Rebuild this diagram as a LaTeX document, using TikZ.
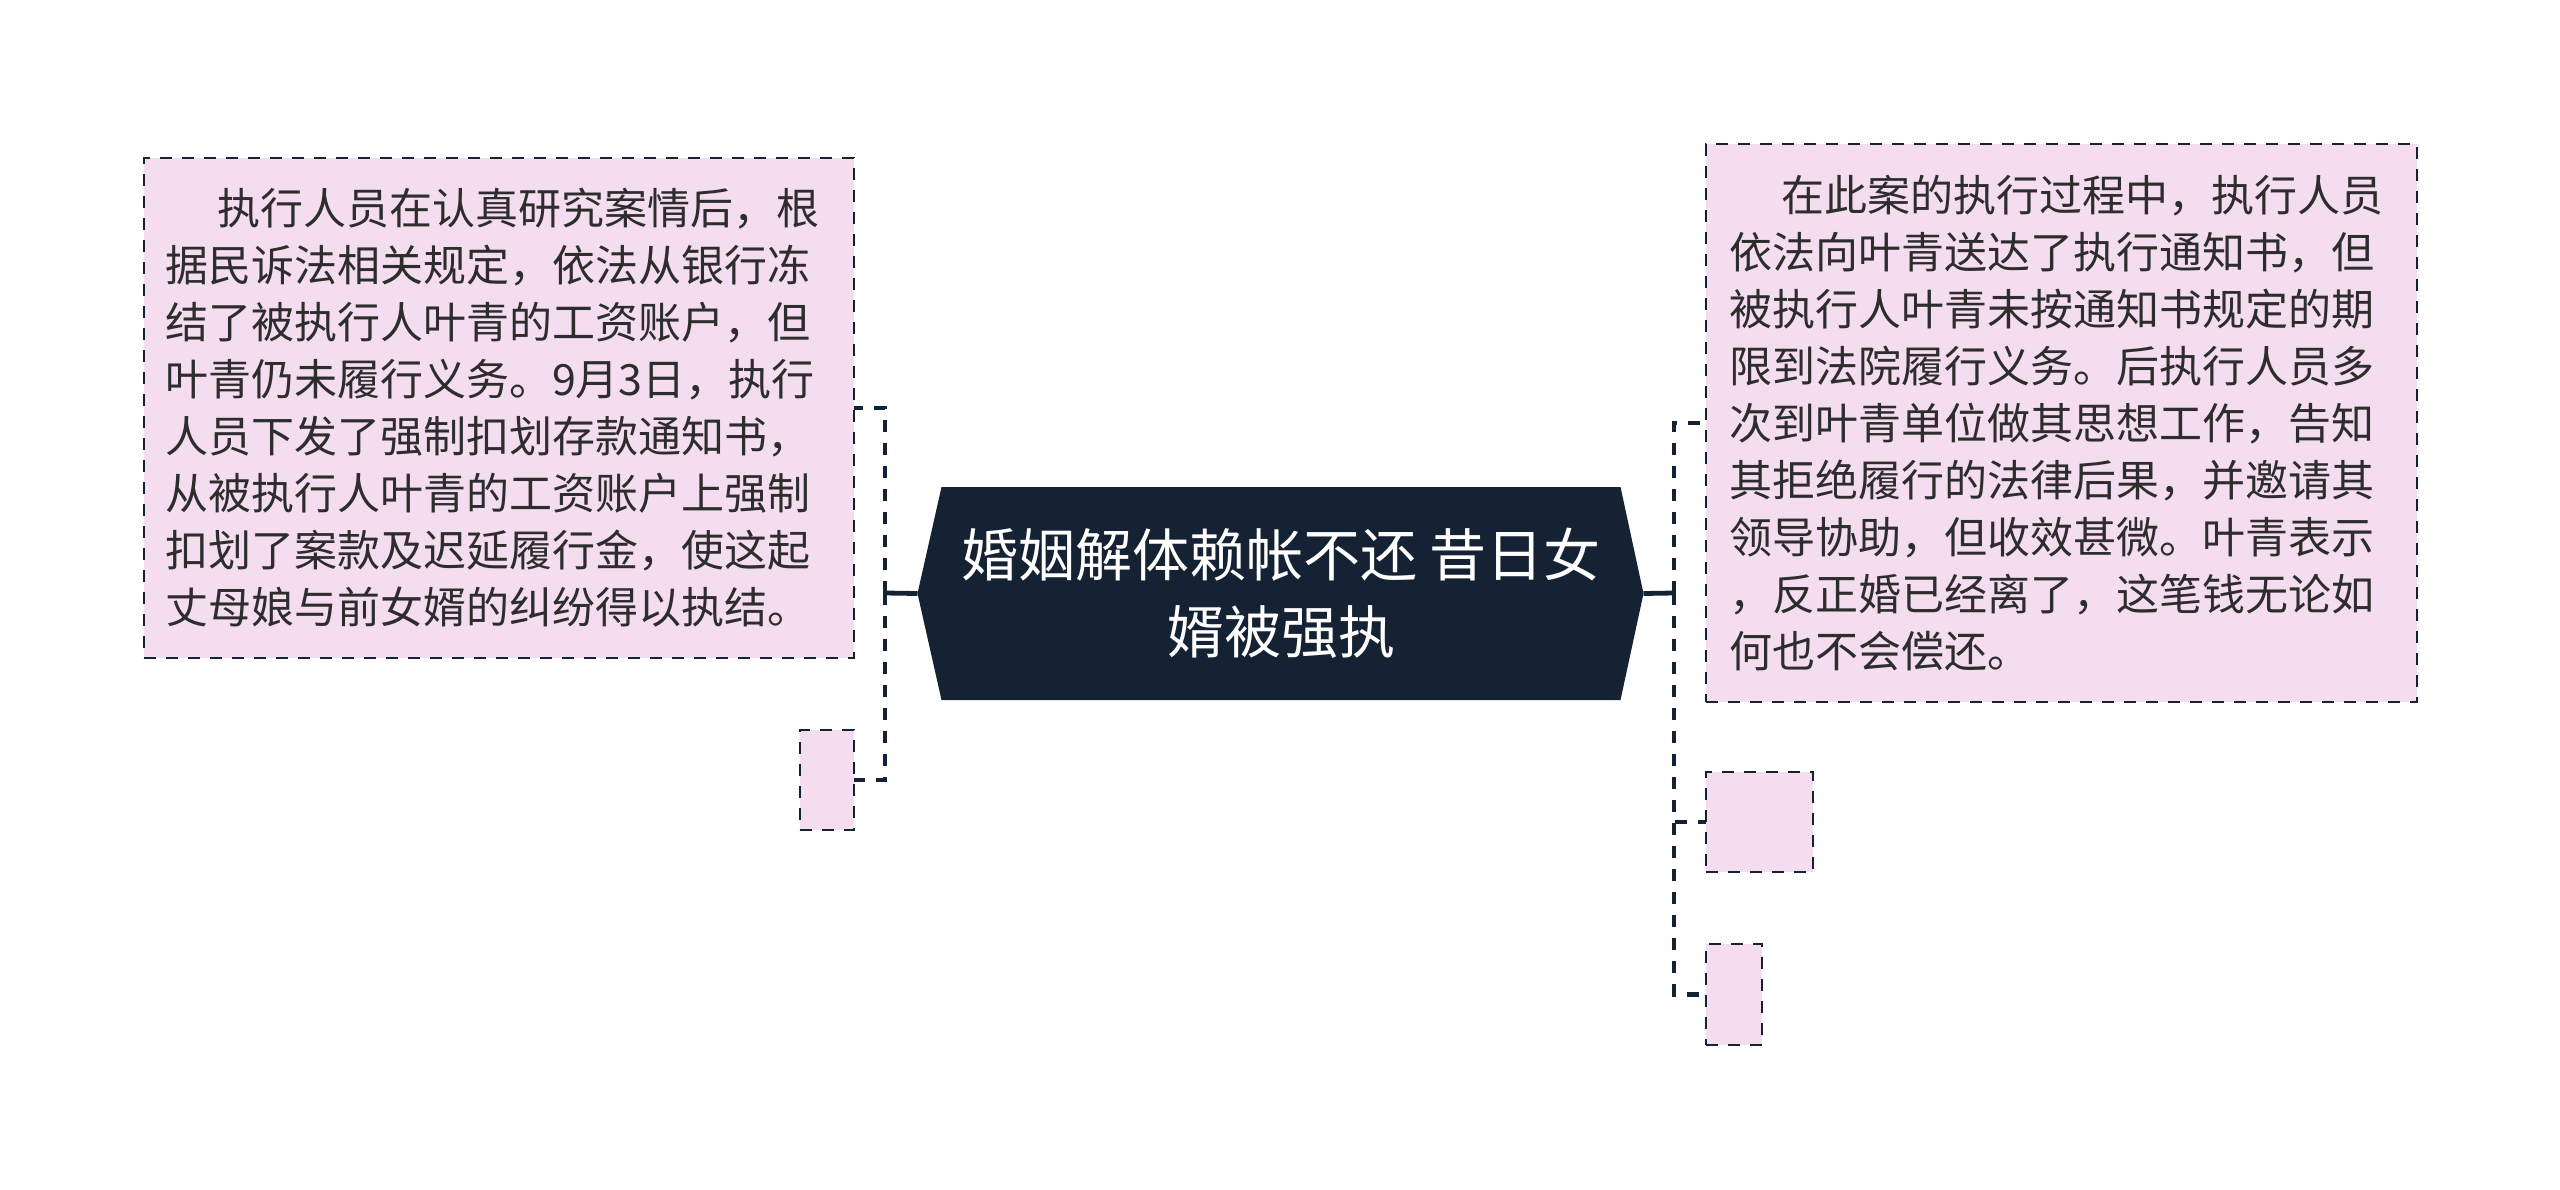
\documentclass[tikz,border=0pt]{standalone}
\usepackage{fontspec}
\setmainfont{Noto Sans CJK SC}
\usetikzlibrary{backgrounds}
\definecolor{navy}{RGB}{20,34,51}
\definecolor{pinkfill}{RGB}{245,221,240}
\definecolor{txt}{RGB}{45,45,45}
\begin{document}
\begin{tikzpicture}[x=0.5pt,y=-0.5pt,
  leaf/.style={draw=navy, fill=pinkfill, line width=1.3pt, dash pattern=on 6pt off 5pt,
    rectangle, inner sep=0pt, outer sep=0pt, text=txt, align=left,
    font=\fontsize{21.5pt}{28.5pt}\selectfont},
  conn/.style={draw=navy, line width=2.4pt, dash pattern=on 6pt off 5.5pt},
  stub/.style={draw=navy, line width=2.4pt},
  rootbox/.style={rectangle, inner sep=0pt, outer sep=0pt, text=white, align=center,
    minimum width=339.5pt, minimum height=106.5pt,
    font=\fontsize{28.5pt}{38.5pt}\selectfont}
]
\useasboundingbox (0,0) rectangle (2560,1189);

\node[rootbox] (root) at (1281,593.5) {婚姻解体赖帐不还 昔日女\\婿被强执};
\coordinate (rootL) at ([xshift=-12pt]root.west);
\coordinate (rootR) at ([xshift=11.5pt]root.east);
\begin{scope}[on background layer]
  \fill[white] (0,0) rectangle (2560,1189);
  \fill[navy] (root.north west) -- (root.north east) -- (rootR) -- (root.south east)
    -- (root.south west) -- (rootL) -- cycle;
\end{scope}

\node[leaf, minimum width=355pt, minimum height=250pt, text width=334pt] (lbox) at (499,408)
{\hspace*{26pt}执行人员在认真研究案情后，根\\
据民诉法相关规定，依法从银行冻\\
结了被执行人叶青的工资账户，但\\
叶青仍未履行义务。9月3日，执行\\
人员下发了强制扣划存款通知书，\\
从被执行人叶青的工资账户上强制\\
扣划了案款及迟延履行金，使这起\\
丈母娘与前女婿的纠纷得以执结。};

\node[leaf, minimum width=27pt, minimum height=50pt] (lsmall) at (827,780) {};

\node[leaf, minimum width=355.5pt, minimum height=279pt, text width=332pt] (rbox) at (2061.5,423)
{\hspace*{26pt}在此案的执行过程中，执行人员\\
依法向叶青送达了执行通知书，但\\
被执行人叶青未按通知书规定的期\\
限到法院履行义务。后执行人员多\\
次到叶青单位做其思想工作，告知\\
其拒绝履行的法律后果，并邀请其\\
领导协助，但收效甚微。叶青表示\\
，反正婚已经离了，这笔钱无论如\\
何也不会偿还。};

\node[leaf, minimum width=53.5pt, minimum height=50pt] (rsmall) at (1759.5,822) {};
\node[leaf, minimum width=28pt, minimum height=50.5pt] (rtiny) at (1734,994.5) {};

\coordinate (jl) at (885,593);
\coordinate (jr) at (1674,593);
\draw[stub] (rootL) -- (jl);
\draw[stub] (rootR) -- (jr);
\draw[conn] (jl) |- (lbox.east);
\draw[conn] (jl) |- (lsmall.east);
\draw[conn] (jr) |- (rbox.west);
\draw[conn] (jr) |- (rsmall.west);
\draw[conn] (jr) |- (rtiny.west);
\end{tikzpicture}
\end{document}
